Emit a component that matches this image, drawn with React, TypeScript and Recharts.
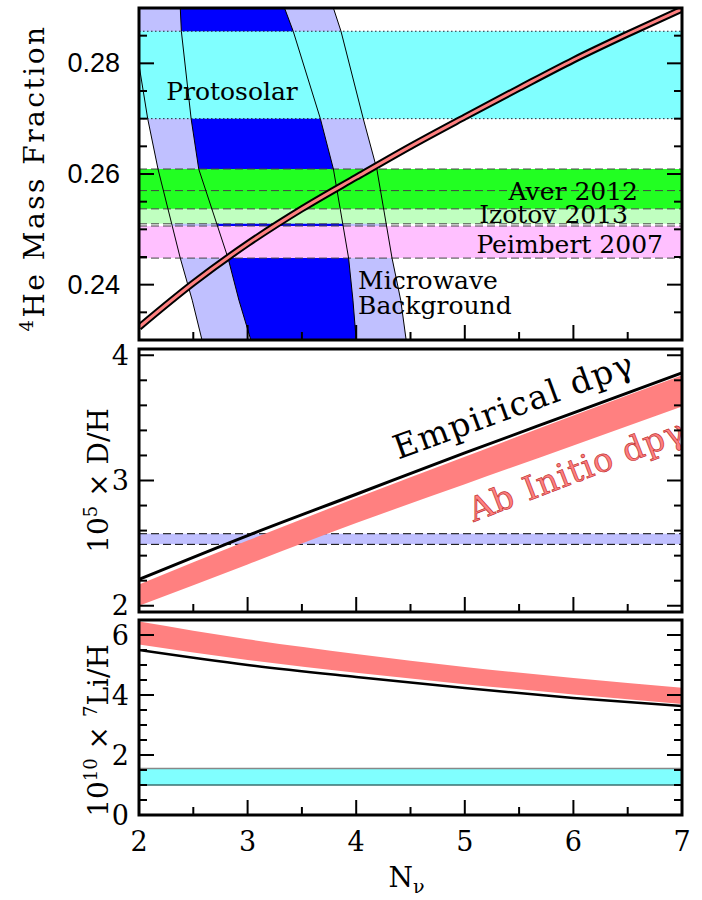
import React from "react";
import {
  ComposedChart,
  XAxis,
  YAxis,
  Line,
  Area,
  Scatter,
  ReferenceArea,
  ReferenceLine,
  ReferenceDot,
  Label,
  Polygon,
} from "recharts";

const SERIF = "'DejaVu Serif', serif";
const SANS = "'Liberation Sans', Arial, sans-serif";
const SALMON = "#ff8080";
const LAVENDER = "#c0c0ff";

// N_nu axis, shared by the three panels
const nuTicks = [2, 2.5, 3, 3.5, 4, 4.5, 5, 5.5, 6, 6.5, 7];
const nuLabels = [2, 3, 4, 5, 6, 7];

// 4He panel
const heDomain = [0.23, 0.29];
const heTicks = [0.235, 0.24, 0.245, 0.25, 0.255, 0.26, 0.265, 0.27, 0.275, 0.28, 0.285];
const heLabels = [0.24, 0.26, 0.28];
const heNu = [2, 2.5, 3, 3.5, 4, 4.5, 5, 5.5, 6, 6.5, 7];
const heYp = [0.2323, 0.2403, 0.2474, 0.2537, 0.2594, 0.265, 0.2703, 0.2755, 0.2806, 0.2853, 0.2898];

// CMB contours, N_nu read at each Yp level
const cmbYp = [0.23, 0.2372, 0.2448, 0.2609, 0.27, 0.2858, 0.29];
const cmbOuterLeft = [2.58, 2.49, 2.38, 2.175, 2.08, 1.95, 1.92];
const cmbInnerLeft = [3.03, 2.92, 2.82, 2.55, 2.48, 2.39, 2.38];
const cmbInnerRight = [4.0, 3.97, 3.93, 3.79, 3.67, 3.42, 3.34];
const cmbOuterRight = [4.46, 4.41, 4.33, 4.19, 4.065, 3.86, 3.79];

const protosolar = [0.27, 0.2858];
const aver2012 = [0.2537, 0.2609];
const izotov2013 = [0.251, 0.257];
const peimbert2007 = [0.2448, 0.2506];

// D/H panel
const dhDomain = [1.95, 4.05];
const dhTicks = [2, 2.2, 2.4, 2.6, 2.8, 3, 3.2, 3.4, 3.6, 3.8, 4];
const dhLabels = [2, 3, 4];
const nuGrid = [2, 3, 4, 5, 6, 7];
const dhEmpirical = [2.21, 2.56, 2.89, 3.22, 3.54, 3.86];
const dhAbInitioLow = [2.0, 2.33, 2.66, 2.97, 3.28, 3.59];
const dhAbInitioHigh = [2.17, 2.52, 2.86, 3.19, 3.52, 3.84];
const dhObserved = [2.49, 2.575];

// 7Li panel
const liDomain = [0, 6.5];
const liTicks = [0, 0.5, 1, 1.5, 2, 2.5, 3, 3.5, 4, 4.5, 5, 5.5, 6];
const liLabels = [0, 2, 4, 6];
const liEmpirical = [5.5, 5.0, 4.6, 4.23, 3.9, 3.63];
const liAbInitioLow = [5.68, 5.17, 4.74, 4.36, 4.02, 3.7];
const liAbInitioHigh = [6.45, 5.86, 5.37, 4.93, 4.57, 4.24];
const liObserved = [1.0, 1.55];

const heCurve = heNu.map((n, i) => ({ n, y: heYp[i] }));
const contour = (ns: number[]) => ns.map((n, i) => ({ n, y: cmbYp[i] }));
const ring = (a: number[], b: number[]) => [...contour(a), ...contour(b).reverse()];
const curve = (ys: number[]) => nuGrid.map((n, i) => ({ n, y: ys[i] }));
const band = (lo: number[], hi: number[]) => nuGrid.map((n, i) => ({ n, band: [lo[i], hi[i]] }));

const noDot = () => <g />;
const fillShape = (fill: string) => (p: any) => <Polygon points={p.points} fill={fill} stroke="none" />;

type TickLabel = { font: string; size: number; gap: number; fmt: (v: number) => string };

function tick(side: string, major: number[], label?: TickLabel) {
  return (props: any) => {
    const { x, y, payload } = props;
    const v = payload.value;
    const big = major.some((m) => Math.abs(m - v) < 1e-6);
    const len = big ? 15 : 8;
    const dx = side === "left" ? len : side === "right" ? -len : 0;
    const dy = side === "top" ? len : side === "bottom" ? -len : 0;
    let txt = null;
    if (label && big && side === "left") {
      txt = (
        <text x={x - label.gap} y={y} textAnchor="end" dominantBaseline="central" fontFamily={label.font} fontSize={label.size} fill="#000">
          {label.fmt(v)}
        </text>
      );
    }
    if (label && big && side === "bottom") {
      txt = (
        <text x={x} y={y + label.gap} textAnchor="middle" fontFamily={label.font} fontSize={label.size} fill="#000">
          {label.fmt(v)}
        </text>
      );
    }
    return (
      <g>
        <line x1={x} y1={y} x2={x + dx} y2={y + dy} stroke="#000" strokeWidth={2} />
        {txt}
      </g>
    );
  };
}

// text placed at a data point (ReferenceDot label)
function note(
  text: React.ReactNode,
  o: { anchor?: string; size?: number; angle?: number; fill?: string; stroke?: string; spacing?: number } = {}
) {
  return (props: any) => {
    const vb = props.viewBox || {};
    const cx = vb.x + (vb.width || 0) / 2;
    const cy = vb.y + (vb.height || 0) / 2;
    return (
      <text
        x={cx}
        y={cy}
        textAnchor={o.anchor || "middle"}
        dominantBaseline="central"
        fontFamily={SERIF}
        fontSize={o.size || 25}
        letterSpacing={o.spacing || 0}
        fill={o.fill || "#000"}
        stroke={o.stroke || "none"}
        strokeWidth={o.stroke ? 0.7 : 0}
        transform={o.angle ? `rotate(${o.angle} ${cx} ${cy})` : undefined}
      >
        {text}
      </text>
    );
  };
}

const heTitle = (props: any) => {
  const vb = props.viewBox;
  const x = 44;
  const y = vb.y + vb.height / 2 + 4;
  return (
    <text x={x} y={y} transform={`rotate(-90 ${x} ${y})`} textAnchor="middle" fontFamily={SERIF} fontSize={28} letterSpacing={2.5} fill="#000">
      <tspan fontSize={18} dy={-11}>4</tspan>
      <tspan dy={11}>He Mass Fraction</tspan>
    </text>
  );
};

const dhTitle = (props: any) => {
  const vb = props.viewBox;
  const x = 108;
  const y = vb.y + vb.height / 2;
  return (
    <text x={x} y={y} transform={`rotate(-90 ${x} ${y})`} textAnchor="middle" fontFamily={SERIF} fontSize={28} fill="#000">
      10<tspan fontSize={18} dy={-11}>5</tspan>
      <tspan dy={11}> × D/H</tspan>
    </text>
  );
};

const liTitle = (props: any) => {
  const vb = props.viewBox;
  const x = 108;
  const y = vb.y + vb.height / 2 + 13;
  return (
    <text x={x} y={y} transform={`rotate(-90 ${x} ${y})`} textAnchor="middle" fontFamily={SERIF} fontSize={28} fill="#000">
      10<tspan fontSize={18} dy={-11}>10</tspan>
      <tspan dy={11}> × </tspan>
      <tspan fontSize={18} dy={-11}>7</tspan>
      <tspan dy={11}>Li/H</tspan>
    </text>
  );
};

const nuTitle = (props: any) => {
  const vb = props.viewBox;
  const x = vb.x + vb.width / 2 - 4;
  const y = vb.y + 72;
  return (
    <text x={x} y={y} textAnchor="middle" fontFamily={SERIF} fontSize={28} fill="#000">
      N<tspan fontSize={19} dy={6}>ν</tspan>
    </text>
  );
};

const serifTicks = (gap: number): TickLabel => ({ font: SERIF, size: 27, gap, fmt: (v) => String(v) });

function frameAxes(yDomain: number[], yTicks: number[], yMajor: number[], yLabel: TickLabel, title: any, bottomLabels: boolean) {
  return [
    <XAxis
      key="xb"
      dataKey="n"
      type="number"
      domain={[2, 7]}
      allowDataOverflow
      ticks={nuTicks}
      interval={0}
      height={1}
      tickSize={0}
      tickMargin={0}
      axisLine={false}
      tickLine={false}
      tick={tick("bottom", nuLabels, bottomLabels ? serifTicks(36) : undefined)}
    >
      {bottomLabels ? <Label content={nuTitle} /> : null}
    </XAxis>,
    <XAxis
      key="xt"
      xAxisId="top"
      orientation="top"
      type="number"
      domain={[2, 7]}
      allowDataOverflow
      ticks={nuTicks}
      interval={0}
      height={1}
      tickSize={0}
      tickMargin={0}
      axisLine={false}
      tickLine={false}
      tick={tick("top", nuLabels)}
    />,
    <YAxis
      key="yl"
      type="number"
      domain={yDomain}
      allowDataOverflow
      ticks={yTicks}
      interval={0}
      width={1}
      tickSize={0}
      tickMargin={0}
      axisLine={false}
      tickLine={false}
      tick={tick("left", yMajor, yLabel)}
    >
      <Label content={title} />
    </YAxis>,
    <YAxis
      key="yr"
      yAxisId="right"
      orientation="right"
      type="number"
      domain={yDomain}
      allowDataOverflow
      ticks={yTicks}
      interval={0}
      width={1}
      tickSize={0}
      tickMargin={0}
      axisLine={false}
      tickLine={false}
      tick={tick("right", yMajor)}
    />,
  ];
}

const frame = (yDomain: number[]) => (
  <ReferenceArea x1={2} x2={7} y1={yDomain[0]} y2={yDomain[1]} fill="none" stroke="#000" strokeWidth={3} ifOverflow="visible" zIndex={40} />
);

const dashed = (y: number, key: string, color = "#444", dash = "8 4") => (
  <ReferenceLine key={key} y={y} stroke={color} strokeWidth={1} strokeDasharray={dash} zIndex={7} />
);

// plot rect: x 139..682; margins account for the 1px axis bands
const side = { left: 138, right: 19 };

function HePanel() {
  return (
    <ComposedChart width={702} height={900} margin={{ top: 7, bottom: 559, ...side }}>
      {frameAxes(heDomain, heTicks, heLabels, { font: SANS, size: 27, gap: 19, fmt: (v) => v.toFixed(2) }, heTitle, false)}
      <Scatter data={ring(cmbOuterLeft, cmbOuterRight)} dataKey="y" shape={noDot} line={fillShape(LAVENDER)} isAnimationActive={false} zIndex={1} />
      <Scatter data={ring(cmbInnerLeft, cmbInnerRight)} dataKey="y" shape={noDot} line={fillShape("#0000ff")} isAnimationActive={false} zIndex={2} />
      <ReferenceArea y1={protosolar[0]} y2={protosolar[1]} fill="#80ffff" fillOpacity={1} stroke="none" zIndex={3} />
      <ReferenceArea y1={peimbert2007[0]} y2={peimbert2007[1]} fill="#ffc0ff" fillOpacity={1} stroke="none" zIndex={4} />
      <ReferenceArea y1={izotov2013[0]} y2={izotov2013[1]} fill="#c0ffc0" fillOpacity={1} stroke="none" zIndex={5} />
      <ReferenceArea y1={aver2012[0]} y2={aver2012[1]} fill="#22ff22" fillOpacity={1} stroke="none" zIndex={6} />
      {protosolar.map((v, i) => dashed(v, "p" + i, "#223", "1.5 2.5"))}
      {aver2012.map((v, i) => dashed(v, "a" + i))}
      {izotov2013.map((v, i) => dashed(v, "i" + i))}
      {peimbert2007.map((v, i) => dashed(v, "pe" + i))}
      {[cmbOuterLeft, cmbInnerLeft, cmbInnerRight, cmbOuterRight].map((c, i) => (
        <Line key={"c" + i} data={contour(c)} dataKey="y" type="linear" stroke="#000" strokeWidth={1} dot={false} isAnimationActive={false} zIndex={8} />
      ))}
      <Line data={heCurve} dataKey="y" type="monotone" stroke="#000" strokeWidth={7} dot={false} isAnimationActive={false} zIndex={9} />
      <Line data={heCurve} dataKey="y" type="monotone" stroke={SALMON} strokeWidth={3} dot={false} isAnimationActive={false} zIndex={10} />
      <ReferenceDot x={2.856} y={0.275} r={0} fill="none" stroke="none" label={note("Protosolar")} zIndex={20} />
      <ReferenceDot x={6.595} y={0.2569} r={0} fill="none" stroke="none" label={note("Aver 2012", { anchor: "end" })} zIndex={20} />
      <ReferenceDot x={6.503} y={0.2526} r={0} fill="none" stroke="none" label={note("Izotov 2013", { anchor: "end" })} zIndex={20} />
      <ReferenceDot x={6.825} y={0.2472} r={0} fill="none" stroke="none" label={note("Peimbert 2007", { anchor: "end" })} zIndex={20} />
      <ReferenceDot x={4.017} y={0.2408} r={0} fill="none" stroke="none" label={note("Microwave", { anchor: "start" })} zIndex={20} />
      <ReferenceDot x={4.017} y={0.2363} r={0} fill="none" stroke="none" label={note("Background", { anchor: "start" })} zIndex={20} />
      {frame(heDomain)}
    </ComposedChart>
  );
}

function DPanel() {
  return (
    <ComposedChart width={702} height={900} margin={{ top: 348, bottom: 287, ...side }}>
      {frameAxes(dhDomain, dhTicks, dhLabels, serifTicks(10), dhTitle, false)}
      <ReferenceArea y1={dhObserved[0]} y2={dhObserved[1]} fill={LAVENDER} fillOpacity={1} stroke="none" zIndex={1} />
      {dhObserved.map((v, i) => dashed(v, "d" + i, "#000"))}
      <Area data={band(dhAbInitioLow, dhAbInitioHigh)} dataKey="band" type="monotone" fill={SALMON} fillOpacity={1} stroke="none" isAnimationActive={false} zIndex={8} />
      <Line data={curve(dhEmpirical)} dataKey="y" type="monotone" stroke="#000" strokeWidth={3} dot={false} isAnimationActive={false} zIndex={9} />
      <ReferenceDot x={5.45} y={3.6} r={0} fill="none" stroke="none" label={note("Empirical dpγ", { size: 33, angle: -20, spacing: 1.5 })} zIndex={20} />
      <ReferenceDot x={6.03} y={3.083} r={0} fill="none" stroke="none" label={note("Ab Initio dpγ", { size: 33, angle: -21, spacing: 1, fill: SALMON, stroke: "#c03030" })} zIndex={20} />
      {frame(dhDomain)}
    </ComposedChart>
  );
}

function LiPanel() {
  return (
    <ComposedChart width={702} height={900} margin={{ top: 619, bottom: 84, ...side }}>
      {frameAxes(liDomain, liTicks, liLabels, serifTicks(10), liTitle, true)}
      <ReferenceArea y1={liObserved[0]} y2={liObserved[1]} fill="#80ffff" fillOpacity={1} stroke="none" zIndex={1} />
      <ReferenceLine y={liObserved[1]} stroke="#888" strokeWidth={1.5} zIndex={2} />
      <ReferenceLine y={liObserved[0]} stroke="#3a7070" strokeWidth={1.5} zIndex={2} />
      <Area data={band(liAbInitioLow, liAbInitioHigh)} dataKey="band" type="monotone" fill={SALMON} fillOpacity={1} stroke="none" isAnimationActive={false} zIndex={8} />
      <Line data={curve(liEmpirical)} dataKey="y" type="monotone" stroke="#000" strokeWidth={2.5} dot={false} isAnimationActive={false} zIndex={9} />
      {frame(liDomain)}
    </ComposedChart>
  );
}

export default function App() {
  return (
    <div style={{ position: "absolute", left: 0, top: 0, width: 702, height: 900, background: "#fff" }}>
      <div style={{ position: "absolute", left: 0, top: 0 }}>
        <HePanel />
      </div>
      <div style={{ position: "absolute", left: 0, top: 0 }}>
        <DPanel />
      </div>
      <div style={{ position: "absolute", left: 0, top: 0 }}>
        <LiPanel />
      </div>
    </div>
  );
}
